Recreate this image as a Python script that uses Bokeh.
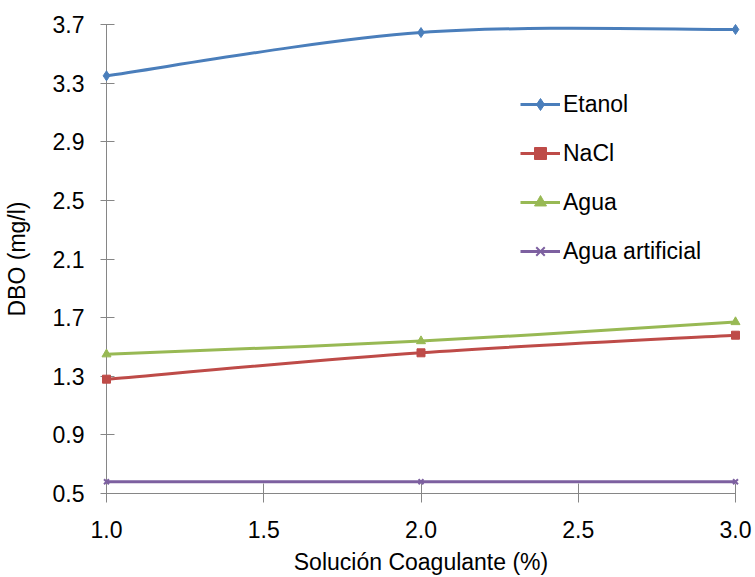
from bokeh.plotting import figure
from bokeh.models import Range1d, Legend, LegendItem, FixedTicker
from bokeh.embed import file_html
from bokeh.resources import INLINE

# Coagulant solution concentration (%)
conc = [1.0, 2.0, 3.0]

# BOD readings (mg/l) per coagulant
etanol = [3.35, 3.645, 3.666]
nacl = [1.28, 1.46, 1.58]
agua = [1.45, 1.54, 1.67]
agua_artificial = [0.58, 0.58, 0.58]

series_names = ["Etanol", "NaCl", "Agua", "Agua artificial"]
x_ticks = [1.0, 1.5, 2.0, 2.5, 3.0]
y_ticks = [0.5, 0.9, 1.3, 1.7, 2.1, 2.5, 2.9, 3.3, 3.7]

FONT = "Liberation Sans, Arial, sans-serif"
FONT_SIZE = "23px"
AXIS_GRAY = "#868686"

p = figure(width=755, height=577, output_backend="svg", toolbar_location=None,
           x_range=Range1d(1.0, 3.0), y_range=Range1d(0.5, 3.7),
           min_border_left=106, min_border_right=20,
           min_border_top=24, min_border_bottom=84)
p.outline_line_color = None
p.xgrid.visible = False
p.ygrid.visible = False
p.background_fill_color = "white"

for ax in (p.xaxis[0], p.yaxis[0]):
    ax.axis_line_color = AXIS_GRAY
    ax.major_tick_line_color = AXIS_GRAY
    ax.minor_tick_line_color = None
    ax.major_label_text_font = FONT
    ax.major_label_text_font_size = FONT_SIZE
    ax.major_label_text_color = "black"
    ax.axis_label_text_font = FONT
    ax.axis_label_text_font_size = FONT_SIZE
    ax.axis_label_text_font_style = "normal"
    ax.axis_label_text_color = "black"

p.xaxis.ticker = FixedTicker(ticks=x_ticks)
p.yaxis.ticker = FixedTicker(ticks=y_ticks)
p.xaxis.major_label_overrides = {v: f"{v:.1f}" for v in x_ticks}
p.yaxis.major_label_overrides = {v: f"{v:.1f}" for v in y_ticks}

p.yaxis.major_tick_out = 6
p.yaxis.major_tick_in = 8
p.yaxis.major_label_standoff = 16
p.yaxis.axis_label = "DBO (mg/l)"
p.yaxis.axis_label_standoff = 20

p.xaxis.major_tick_out = 9
p.xaxis.major_tick_in = 10
p.xaxis.major_label_standoff = 18
p.xaxis.axis_label = "Solución Coagulante (%)"
p.xaxis.axis_label_standoff = 8


def smooth_segments(xs, ys):
    """Cubic Bezier control points for a smoothed polyline through the points."""
    n = len(xs)
    x0s, y0s, x1s, y1s, cx0, cy0, cx1, cy1 = [], [], [], [], [], [], [], []
    for i in range(n - 1):
        ip = max(i - 1, 0)
        inn = min(i + 2, n - 1)
        x0s.append(xs[i]); y0s.append(ys[i])
        x1s.append(xs[i + 1]); y1s.append(ys[i + 1])
        cx0.append(xs[i] + (xs[i + 1] - xs[ip]) / 6.0)
        cy0.append(ys[i] + (ys[i + 1] - ys[ip]) / 6.0)
        cx1.append(xs[i + 1] - (xs[inn] - xs[i]) / 6.0)
        cy1.append(ys[i + 1] - (ys[inn] - ys[i]) / 6.0)
    return dict(x0=x0s, y0=y0s, x1=x1s, y1=y1s, cx0=cx0, cy0=cy0, cx1=cx1, cy1=cy1)


styles = [
    (etanol, "#4A7EBB", "diamond", 10),
    (nacl, "#BE4B48", "square", 8),
    (agua, "#98B954", "triangle", 9),
    (agua_artificial, "#7D60A0", "x", 7),
]

items = []
for name, (vals, color, marker, size) in zip(series_names, styles):
    seg = smooth_segments(conc, vals)
    curve = p.bezier(x0=seg["x0"], y0=seg["y0"], x1=seg["x1"], y1=seg["y1"],
                     cx0=seg["cx0"], cy0=seg["cy0"], cx1=seg["cx1"], cy1=seg["cy1"],
                     line_color=color, line_width=3)
    pts = p.scatter(conc, vals, marker=marker, size=size, fill_color=color,
                    line_color=color, line_width=2 if marker == "x" else 1,
                    level="overlay")
    items.append(LegendItem(label=name, renderers=[curve, pts]))

legend = Legend(items=items, location=(414, 227), orientation="vertical",
                background_fill_alpha=0, border_line_alpha=0,
                padding=0, margin=0, spacing=19,
                glyph_width=40, glyph_height=30, label_height=30,
                label_standoff=3, label_text_font=FONT,
                label_text_font_size=FONT_SIZE, label_text_color="black")
p.add_layout(legend, "center")

open("out.html", "w").write(file_html(p, INLINE))
